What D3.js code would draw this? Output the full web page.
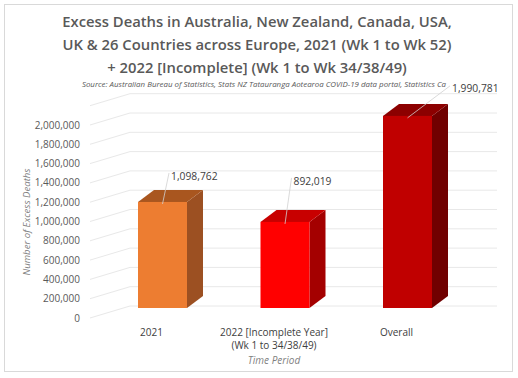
<!DOCTYPE html>
<html>
<head>
<meta charset="utf-8">
<script src="https://cdn.jsdelivr.net/npm/d3@7"></script>
<style>
  body { margin: 0; background: #fff; }
  text { font-family: "Open Sans", sans-serif; }
</style>
</head>
<body>
<div id="chart"></div>
<script>
// chart values
var categories = ["2021", "2022 [Incomplete Year]", "Overall"];
var categoryLines = [["2021"], ["2022 [Incomplete Year]", "(Wk 1 to 34/38/49)"], ["Overall"]];
var deaths = [1098762, 892019, 1990781];
var yTicks = [0, 200000, 400000, 600000, 800000, 1000000, 1200000, 1400000, 1600000, 1800000, 2000000];
var titleLines = [
  "Excess Deaths in Australia, New Zealand, Canada, USA,",
  "UK & 26 Countries across Europe, 2021 (Wk 1 to Wk 52)",
  "+ 2022 [Incomplete] (Wk 1 to Wk 34/38/49)"
];
var sourceText = "Source: Australian Bureau of Statistics, Stats NZ Tatauranga Aotearoa COVID-19 data portal, Statistics Ca";

// bar colours: front, top, side
var barColors = [
  { front: "#ED7D31", top: "#A9561F", side: "#9C5022" },
  { front: "#FF0000", top: "#C80000", side: "#A40000" },
  { front: "#C00000", top: "#8C0000", side: "#700000" }
];
// manual data label placement (dx, dy from bar top-left)
var labelOffsets = [[33, -26], [33, -41], [69, -27]];

var svgWidth = 518;
var svgHeight = 378;

var svg = d3.select("#chart").append("svg")
  .attr("width", svgWidth)
  .attr("height", svgHeight);

// outer border
svg.append("rect")
  .attr("x", 4.5).attr("y", 4.5)
  .attr("width", 508).attr("height", 367)
  .attr("fill", "#fff")
  .attr("stroke", "#d9d9d9");

// title
svg.selectAll(".title")
  .data(titleLines)
  .enter()
  .append("text")
  .attr("class", "title")
  .attr("x", 257)
  .attr("y", (d, i) => 27 + i * 23)
  .attr("text-anchor", "middle")
  .attr("font-size", "14.8px")
  .attr("font-weight", 600)
  .attr("fill", "#595959")
  .text(d => d);

svg.append("text")
  .attr("x", 264)
  .attr("y", 87)
  .attr("text-anchor", "middle")
  .attr("font-size", "7.9px")
  .attr("font-style", "italic")
  .attr("fill", "#595959")
  .text(sourceText);

// 3D geometry
var wallFrontX = 90, wallBackX = 130, wallRightX = 497;
var wallDy = -12;
var barDx = 16, barDy = -12;
var barWidth = 49;

var yFront = d3.scaleLinear().domain([0, 2200000]).range([318, 105.7]);
var yBar = d3.scaleLinear().domain([0, 2200000]).range([308, 95.7]);
var xCenter = d3.scalePoint().domain(categories).range([162.5, 407.5]);

var gridVals = yTicks.concat([2200000]);
var grid = svg.append("g").attr("stroke", "#e8e8e8").attr("stroke-width", 1).attr("fill", "none");

// back wall lines
grid.selectAll(".back")
  .data(gridVals)
  .enter()
  .append("line")
  .attr("x1", wallBackX).attr("x2", wallRightX)
  .attr("y1", d => yFront(d) + wallDy)
  .attr("y2", d => yFront(d) + wallDy);

// side wall lines
grid.selectAll(".side")
  .data(gridVals)
  .enter()
  .append("line")
  .attr("x1", wallFrontX).attr("x2", wallBackX)
  .attr("y1", d => yFront(d))
  .attr("y2", d => yFront(d) + wallDy);

// y axis labels
svg.selectAll(".ytick")
  .data(yTicks)
  .enter()
  .append("text")
  .attr("x", 80)
  .attr("y", d => yFront(d))
  .attr("dy", "0.35em")
  .attr("text-anchor", "end")
  .attr("font-size", "10px")
  .attr("fill", "#595959")
  .text(d => d3.format(",")(d));

svg.append("text")
  .attr("transform", "translate(27," + 222 + ") rotate(-90)")
  .attr("text-anchor", "middle")
  .attr("dy", "0.35em")
  .attr("font-size", "9.6px")
  .attr("font-style", "italic")
  .attr("fill", "#7f7f7f")
  .text("Number of Excess Deaths");

// bars
var bars = svg.selectAll(".bar")
  .data(deaths)
  .enter()
  .append("g")
  .attr("class", "bar");

bars.each(function(d, i) {
  var g = d3.select(this);
  var x0 = xCenter(categories[i]) - barWidth / 2;
  var x1 = x0 + barWidth;
  var yT = yBar(d);
  var yB = yBar(0);
  var c = barColors[i];
  g.append("polygon")
    .attr("points", [[x1, yT], [x1 + barDx, yT + barDy], [x1 + barDx, yB + barDy], [x1, yB]].join(" "))
    .attr("fill", c.side);
  g.append("polygon")
    .attr("points", [[x0, yT], [x0 + barDx, yT + barDy], [x1 + barDx, yT + barDy], [x1, yT]].join(" "))
    .attr("fill", c.top);
  g.append("rect")
    .attr("x", x0).attr("y", yT)
    .attr("width", barWidth).attr("height", yB - yT)
    .attr("fill", c.front);
});

// data labels with leader lines
deaths.forEach(function(d, i) {
  var x0 = xCenter(categories[i]) - barWidth / 2;
  var yT = yBar(d);
  var off = labelOffsets[i];
  var lx = x0 + off[0], ly = yT + off[1];
  svg.append("line")
    .attr("x1", xCenter(categories[i])).attr("y1", yT + 2)
    .attr("x2", lx - 2).attr("y2", ly - 3)
    .attr("stroke", "#d0d0d0")
    .attr("stroke-width", 0.8);
  svg.append("text")
    .attr("x", lx)
    .attr("y", ly)
    .attr("dy", "0.35em")
    .attr("font-size", "10.3px")
    .attr("fill", "#404040")
    .text(d3.format(",")(d));
});

// category labels
var catG = svg.selectAll(".cat")
  .data(categoryLines)
  .enter()
  .append("text")
  .attr("text-anchor", "middle")
  .attr("font-size", "10px")
  .attr("fill", "#404040");

catG.selectAll("tspan")
  .data((d, i) => d.map(t => ({ t: t, c: categories[i] })))
  .enter()
  .append("tspan")
  .attr("x", d => xCenter(d.c) - 11)
  .attr("y", (d, j) => 336 + j * 13)
  .text(d => d.t);

svg.append("text")
  .attr("x", xCenter(categories[1]) - 11)
  .attr("y", 364)
  .attr("text-anchor", "middle")
  .attr("font-size", "10px")
  .attr("font-style", "italic")
  .attr("fill", "#7f7f7f")
  .text("Time Period");
</script>
</body>
</html>
